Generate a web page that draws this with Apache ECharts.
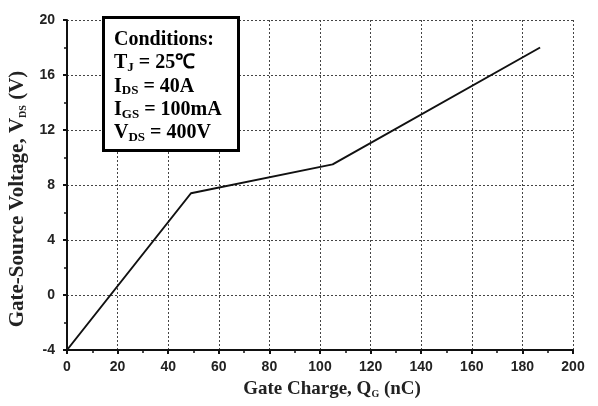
<!DOCTYPE html>
<html>
<head>
<meta charset="utf-8">
<script src="https://cdn.jsdelivr.net/npm/echarts@6/dist/echarts.min.js"></script>
<style>
  html, body { margin: 0; padding: 0; background: #fff; }
  #chart { width: 598px; height: 406px; }
</style>
</head>
<body>
<div id="chart"></div>
<script>
// Gate charge curve: gate charge (nC) vs gate-source voltage (V)
const gateCharge = [0, 49, 105, 187];
const gateVoltage = [-4, 7.4, 9.5, 18];
const xTicks = [0, 20, 40, 60, 80, 100, 120, 140, 160, 180, 200];
const yTicks = [-4, 0, 4, 8, 12, 16, 20];

const chart = echarts.init(document.getElementById('chart'), null, { renderer: 'canvas' });

const serif = 'Liberation Serif, Times New Roman, serif';
const tickFont = { fontFamily: 'Liberation Sans, Arial, sans-serif', fontWeight: 'bold', fontSize: 14, color: '#222' };
const xTitle = { fontFamily: serif, fontWeight: 'bold', fontSize: 19, color: '#222' };
const yTitle = { fontFamily: serif, fontWeight: 'bold', fontSize: 21, color: '#222' };
const xSub = { fontFamily: serif, fontWeight: 'bold', fontSize: 10, color: '#222', padding: [10, 0, 0, 0] };
const ySub = { fontFamily: serif, fontWeight: 'bold', fontSize: 10, color: '#222', padding: [11, 0, 0, 0] };
const dotted = { color: '#444', width: 1, type: [2, 2] };

const boxFont = { fontFamily: serif, fontWeight: 'bold', fontSize: 20, color: '#111', lineHeight: 23.3 };
const boxSub = { fontFamily: serif, fontWeight: 'bold', fontSize: 13, color: '#111', lineHeight: 23.3, padding: [9, 0, 0, 0] };

chart.setOption({
  animation: false,
  backgroundColor: '#fff',
  grid: { left: 67, right: 25, top: 20, bottom: 56, containLabel: false, outerBoundsMode: 'none' },
  xAxis: {
    type: 'value',
    min: xTicks[0],
    max: xTicks[xTicks.length - 1],
    interval: 20,
    name: '{t|Gate Charge, Q}{s|G}{t| (nC)}',
    nameLocation: 'middle',
    nameGap: 29,
    nameTextStyle: { padding: [0, 0, 0, 24], rich: { t: xTitle, s: xSub } },
    axisLine: { onZero: false, lineStyle: { color: '#111', width: 2 } },
    axisTick: { show: true, length: 4, lineStyle: { color: '#111', width: 2 } },
    minorTick: { show: true, splitNumber: 2, length: 3, lineStyle: { color: '#111', width: 1.5 } },
    axisLabel: Object.assign({ margin: 10 }, tickFont),
    splitLine: { show: true, lineStyle: dotted }
  },
  yAxis: {
    type: 'value',
    min: yTicks[0],
    max: yTicks[yTicks.length - 1],
    interval: 4,
    name: '{t|Gate-Source Voltage, V}{s|DS}{t| (V)}',
    nameLocation: 'middle',
    nameRotate: 90,
    nameGap: 27,
    nameTextStyle: { padding: [0, 28, 0, 0], rich: { t: yTitle, s: ySub } },
    axisLine: { onZero: false, lineStyle: { color: '#111', width: 2 } },
    axisTick: { show: true, length: 4, lineStyle: { color: '#111', width: 2 } },
    minorTick: { show: true, splitNumber: 2, length: 3, lineStyle: { color: '#111', width: 1.5 } },
    axisLabel: Object.assign({ margin: 12 }, tickFont),
    splitLine: { show: true, lineStyle: dotted }
  },
  series: [{
    type: 'line',
    data: gateCharge.map((q, i) => [q, gateVoltage[i]]),
    symbol: 'none',
    lineStyle: { color: '#111', width: 2 },
    z: 3
  }],
  graphic: [
    {
      type: 'rect',
      left: 102, top: 16,
      shape: { width: 135, height: 133 },
      style: { fill: '#fff', stroke: '#000', lineWidth: 3 },
      z: 10
    },
    {
      type: 'text',
      left: 114, top: 30,
      z: 11,
      style: {
        text: [
          '{a|Conditions:}',
          '{a|T}{b|J}{a| = 25\u2103}',
          '{a|I}{b|DS}{a| = 40A}',
          '{a|I}{b|GS}{a| = 100mA}',
          '{a|V}{b|DS}{a| = 400V}'
        ].join('\n'),
        rich: { a: boxFont, b: boxSub }
      }
    }
  ]
});
</script>
</body>
</html>
